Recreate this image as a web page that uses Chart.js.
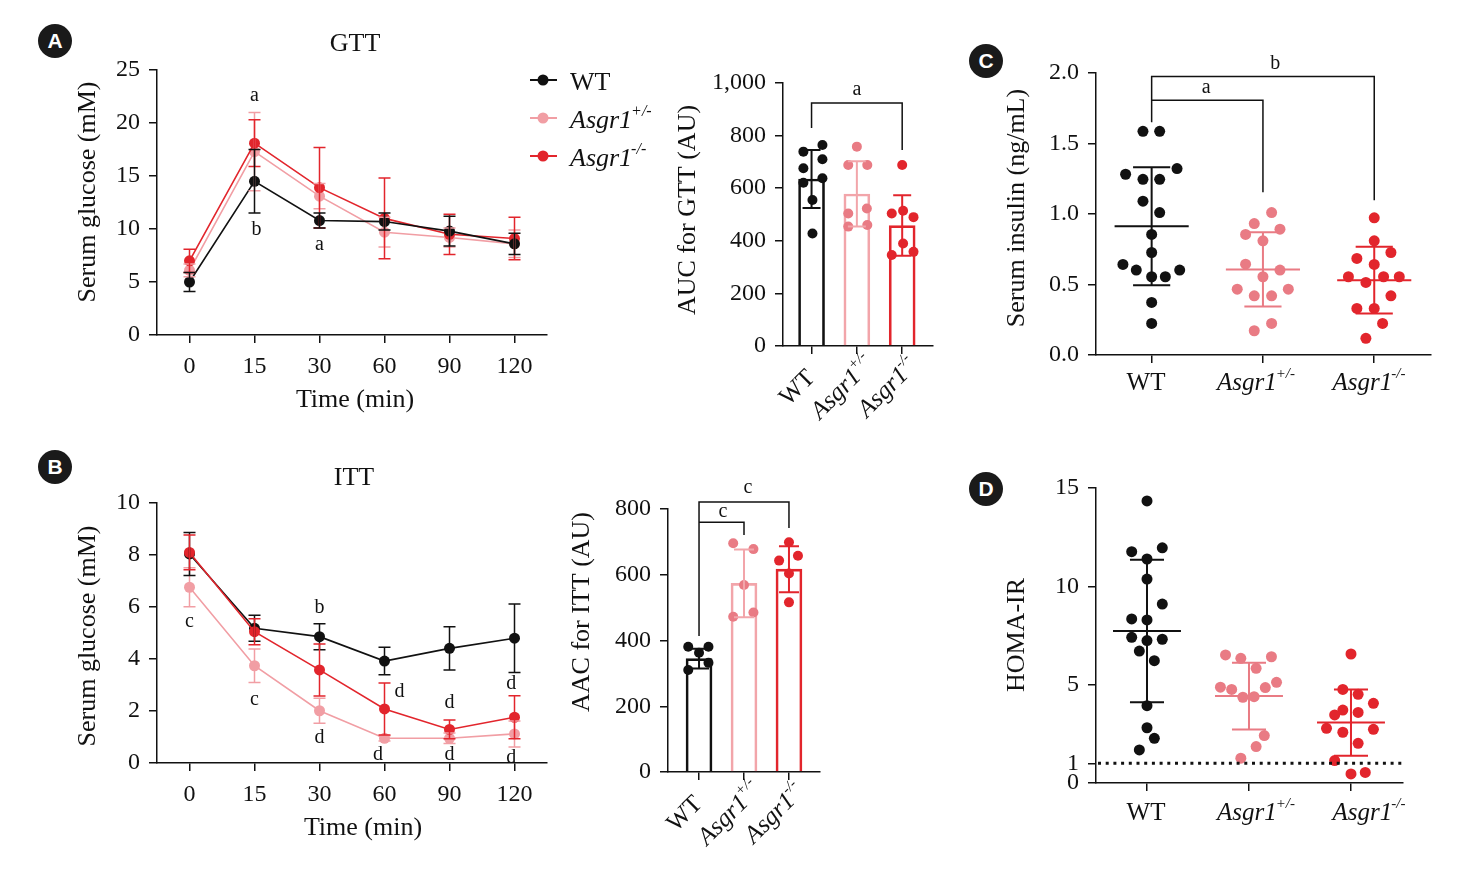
<!DOCTYPE html>
<html>
<head>
<meta charset="utf-8">
<title>GTT / ITT / insulin / HOMA-IR</title>
<script src="https://cdn.jsdelivr.net/npm/chart.js@4.4.1/dist/chart.umd.min.js"></script>
<style>
  body { margin: 0; background: #fff; }
  #page { position: relative; width: 1467px; height: 876px; overflow: hidden; background: #fff; }
  #page canvas { position: absolute; }
  .tag { position: absolute; width: 34px; height: 34px; border-radius: 50%; background: #1a1a1a; color: #fff;
         font: bold 21px "Liberation Sans", Arial, sans-serif; text-align: center; line-height: 34px; }
</style>
</head>
<body>
<div id="page">
  <div class="tag" style="left:38px;top:24px">A</div>
  <div class="tag" style="left:38px;top:450px">B</div>
  <div class="tag" style="left:969px;top:44px">C</div>
  <div class="tag" style="left:969px;top:472px">D</div>
</div>
<script>
var SERIF = '"Liberation Serif", "Times New Roman", serif';
var BLACK = '#111111';
var PINK_LINE = '#f19ea4';
var PINK_BAR = '#f2a5aa';
var PINK = '#e97b84';
var RED = '#e2252c';

// axes / groups
var times = ['0', '15', '30', '60', '90', '120'];
var groupNames = ['WT', 'Asgr1', 'Asgr1'];
var groupSups = ['', '+/-', '-/-'];

// GTT, serum glucose (mM), mean and SD
var gttWT = [5.0, 14.5, 10.8, 10.7, 9.8, 8.6];
var gttWTsd = [0.9, 3.0, 0.7, 0.8, 1.4, 1.0];
var gttHet = [6.1, 17.3, 13.1, 9.7, 9.2, 8.6];
var gttHetSd = [0.6, 3.7, 1.2, 1.4, 0.9, 1.3];
var gttKo = [7.0, 18.1, 13.9, 11.0, 9.5, 9.1];
var gttKoSd = [1.1, 2.2, 3.8, 3.8, 1.9, 2.0];

// ITT, serum glucose (mM)
var ittWT = [8.04, 5.18, 4.86, 3.92, 4.41, 4.80];
var ittWTsd = [0.83, 0.5, 0.5, 0.53, 0.83, 1.32];
var ittHet = [6.76, 3.74, 2.01, 0.95, 0.95, 1.12];
var ittHetSd = [0.75, 0.64, 0.48, 0.1, 0.2, 0.5];
var ittKo = [8.10, 5.05, 3.58, 2.08, 1.29, 1.76];
var ittKoSd = [0.67, 0.5, 1.0, 1.0, 0.36, 0.83];

// AUC for GTT (AU); the *X arrays are the horizontal jitter of each dot
var aucMean = [635, 578, 458];
var aucSd = [110, 124, 115];
var aucWT = [739, 764, 676, 710, 621, 638, 555, 428];
var aucWTx = [-0.18, 0.24, -0.18, 0.24, -0.18, 0.24, 0.02, 0.02];
var aucHet = [758, 688, 688, 504, 523, 454, 460];
var aucHetX = [0, -0.19, 0.23, -0.19, 0.22, -0.19, 0.23];
var aucKo = [688, 504, 514, 490, 390, 346, 358];
var aucKoX = [0, -0.23, 0.02, 0.25, 0.02, -0.23, 0.25];

// AAC for ITT (AU)
var aacMean = [345, 574, 617];
var aacSd = [30, 103, 70];
var aacWT = [381, 381, 363, 310, 332];
var aacWTx = [-0.24, 0.21, 0, -0.24, 0.21];
var aacHet = [696, 678, 569, 472, 485];
var aacHetX = [-0.24, 0.21, 0, -0.24, 0.21];
var aacKo = [699, 643, 658, 604, 516];
var aacKoX = [0, -0.22, 0.2, 0, 0];

// Serum insulin (ng/mL)
var insMean = [0.913, 0.607, 0.531];
var insSd = [0.418, 0.263, 0.236];
var insWT = [1.586, 1.586, 1.282, 1.322, 1.246, 1.246, 1.091, 1.010, 0.855, 0.727, 0.642, 0.602, 0.555, 0.555, 0.602, 0.373, 0.224];
var insWTx = [-0.078, 0.072, -0.234, 0.228, -0.078, 0.072, -0.078, 0.072, 0, 0, -0.258, -0.138, 0, 0.123, 0.252, 0, 0];
var insHet = [1.010, 0.932, 0.892, 0.855, 0.810, 0.644, 0.602, 0.555, 0.467, 0.467, 0.420, 0.420, 0.224, 0.172];
var insHetX = [0.078, -0.078, 0.153, -0.156, 0, -0.156, 0.153, 0, -0.231, 0.228, -0.078, 0.078, 0.078, -0.078];
var insKo = [0.973, 0.810, 0.685, 0.727, 0.642, 0.555, 0.515, 0.555, 0.555, 0.420, 0.330, 0.330, 0.224, 0.118];
var insKoX = [0, 0, -0.156, 0.150, 0, -0.232, -0.075, 0.084, 0.225, 0.150, -0.156, 0, 0.075, -0.075];

// HOMA-IR
var homaMean = [7.73, 4.42, 3.07];
var homaSd = [3.62, 1.70, 1.69];
var homaWT = [14.34, 11.76, 11.96, 11.39, 10.37, 9.10, 8.34, 8.29, 7.41, 7.24, 7.31, 6.71, 6.22, 3.93, 2.81, 2.27, 1.68];
var homaWTx = [0, -0.15, 0.15, 0, 0, 0.15, -0.15, 0, -0.15, 0, 0.15, -0.075, 0.072, 0, 0, 0.072, -0.075];
var homaHet = [6.51, 6.34, 6.42, 5.83, 4.87, 4.76, 4.85, 5.12, 4.36, 4.39, 2.41, 1.85, 1.26];
var homaHetX = [-0.23, -0.08, 0.22, 0.07, -0.28, -0.17, 0.16, 0.27, -0.06, 0.05, 0.15, 0.07, -0.08];
var homaKo = [6.56, 4.76, 4.51, 4.05, 3.71, 3.46, 3.59, 2.78, 2.58, 2.73, 2.02, 1.14, 0.46, 0.54];
var homaKoX = [0, -0.08, 0.07, 0.22, -0.08, -0.16, 0.07, -0.24, -0.08, 0.22, 0.07, -0.16, 0, 0.14];

Chart.defaults.font.family = SERIF;
Chart.defaults.color = BLACK;
Chart.defaults.animation = false;
Chart.defaults.plugins.legend.display = false;
Chart.defaults.plugins.tooltip.enabled = false;

function makeCanvas(left, top, w, h) {
  var c = document.createElement('canvas');
  c.width = w; c.height = h;
  c.style.left = left + 'px'; c.style.top = top + 'px';
  document.getElementById('page').appendChild(c);
  return c;
}

// points for group g: x = group index + jitter
function pts(values, jitter, g) {
  return values.map(function (v, i) { return { x: (g || 0) + (jitter ? jitter[i] : i), y: v }; });
}

function fixedTicks(list) {
  return function (scale) { scale.ticks = list.map(function (v) { return { value: v }; }); };
}

var lineGrid = { drawOnChartArea: false, drawTicks: true, tickLength: 8, color: BLACK, lineWidth: 1.5, offset: false };
var lineBorder = { color: BLACK, width: 1.5 };

function yAxis(min, max, step, width, fmt, tickList) {
  var ax = {
    min: min, max: max,
    ticks: { stepSize: step, padding: 9, font: { size: 24 }, color: BLACK },
    grid: lineGrid, border: lineBorder,
    afterFit: function (s) { s.width = width; }
  };
  if (fmt) ax.ticks.callback = fmt;
  if (tickList) ax.afterBuildTicks = fixedTicks(tickList);
  return ax;
}

function xAxis(min, max, count, height, labels) {
  return {
    type: 'linear', min: min, max: max, offset: false,
    afterBuildTicks: fixedTicks(Array.from({ length: count }, function (_, i) { return i; })),
    ticks: {
      display: !!labels, padding: 9, autoSkip: false, font: { size: 24 }, color: BLACK,
      callback: function (v) { return labels ? labels[v] : ''; }
    },
    grid: lineGrid, border: lineBorder,
    afterFit: function (s) { s.height = height; }
  };
}

function drawText(ctx, it) {
  var size = it.size || 26;
  var slant = it.italic ? 'italic ' : '';
  var mainFont = slant + size + 'px ' + SERIF;
  var supFont = slant + Math.round(size * 0.6) + 'px ' + SERIF;
  ctx.save();
  ctx.translate(it.x, it.y);
  if (it.rot) ctx.rotate(it.rot);
  ctx.font = mainFont;
  var w1 = ctx.measureText(it.t).width - (it.sup ? 1 : 0);
  var w2 = 0;
  if (it.sup) { ctx.font = supFont; w2 = ctx.measureText(it.sup).width; }
  var x0 = it.align === 'left' ? 0 : (it.align === 'right' ? -(w1 + w2) : -(w1 + w2) / 2);
  ctx.fillStyle = it.color || BLACK;
  ctx.textAlign = 'left';
  ctx.textBaseline = 'middle';
  ctx.font = mainFont;
  ctx.fillText(it.t, x0, 0);
  if (it.sup) { ctx.font = supFont; ctx.fillText(it.sup, x0 + w1, -size * 0.36); }
  ctx.restore();
}

// error bars, brackets, letters, labels, legend
function extras(o) {
  return {
    id: 'extras',
    afterDatasetsDraw: function (chart) {
      var ctx = chart.ctx, xs = chart.scales.x, ys = chart.scales.y;
      ctx.save();
      (o.errs || []).forEach(function (e) {
        ctx.strokeStyle = e.color;
        ctx.lineWidth = e.width || 1.5;
        e.mean.forEach(function (m, i) {
          var px = xs.getPixelForValue(e.at ? e.at[i] : i);
          var hi = ys.getPixelForValue(m + e.sd[i]);
          var lo = ys.getPixelForValue(m - e.sd[i]);
          var c = e.capX ? xs.getPixelForValue(e.capX) - xs.getPixelForValue(0) : e.cap;
          ctx.beginPath();
          ctx.moveTo(px, hi); ctx.lineTo(px, lo);
          ctx.moveTo(px - c, hi); ctx.lineTo(px + c, hi);
          ctx.moveTo(px - c, lo); ctx.lineTo(px + c, lo);
          if (e.meanX) {
            var half = xs.getPixelForValue(e.meanX) - xs.getPixelForValue(0);
            var py = ys.getPixelForValue(m);
            ctx.moveTo(px - half, py); ctx.lineTo(px + half, py);
          }
          ctx.stroke();
        });
      });
      ctx.restore();
    },
    afterDraw: function (chart) {
      var ctx = chart.ctx, xs = chart.scales.x, ys = chart.scales.y, area = chart.chartArea;
      ctx.save();
      ctx.strokeStyle = BLACK;
      ctx.lineWidth = 1.5;
      (o.brackets || []).forEach(function (b) {
        ctx.beginPath();
        b.forEach(function (p, k) {
          var X = xs.getPixelForValue(p[0]), Y = ys.getPixelForValue(p[1]);
          if (k) ctx.lineTo(X, Y); else ctx.moveTo(X, Y);
        });
        ctx.stroke();
      });
      if (o.refLine !== undefined) {
        var ry = ys.getPixelForValue(o.refLine);
        ctx.setLineDash([3, 4.7]);
        ctx.lineWidth = 3;
        ctx.beginPath(); ctx.moveTo(area.left + 2, ry); ctx.lineTo(area.right, ry); ctx.stroke();
        ctx.setLineDash([]);
      }
      (o.letters || []).forEach(function (l) {
        drawText(ctx, { t: l[0], x: xs.getPixelForValue(l[1]), y: ys.getPixelForValue(l[2]), size: 20 });
      });
      if (o.cats && o.cats.rotate) {
        groupNames.forEach(function (name, i) {
          var px = xs.getPixelForValue(i);
          drawText(ctx, { t: name, sup: groupSups[i], italic: i > 0, size: 25,
                          x: px - 14, y: area.bottom + 42, rot: -Math.PI / 4 });
        });
      }
      ctx.translate(-o.box[0], -o.box[1]);
      if (o.cats && !o.cats.rotate) {
        groupNames.forEach(function (name, i) {
          drawText(ctx, { t: name, sup: groupSups[i], italic: i > 0, size: 25,
                          x: o.cats.xs[i], y: o.cats.y });
        });
      }
      (o.texts || []).forEach(function (t) { drawText(ctx, t); });
      (o.legend || []).forEach(function (l) {
        ctx.strokeStyle = l.color; ctx.fillStyle = l.color; ctx.lineWidth = 2;
        ctx.beginPath(); ctx.moveTo(530, l.y); ctx.lineTo(557, l.y); ctx.stroke();
        ctx.beginPath(); ctx.arc(543, l.y, 5.5, 0, Math.PI * 2); ctx.fill();
        drawText(ctx, { t: l.t, sup: l.sup, italic: !!l.sup, x: 570, y: l.y + 3, size: 26, align: 'left' });
      });
      ctx.restore();
    }
  };
}

function lineSet(data, color) {
  return {
    data: pts(data), borderColor: color, backgroundColor: color, borderWidth: 1.6,
    pointRadius: 5.5, pointBorderWidth: 0, pointBackgroundColor: color, tension: 0
  };
}

function dotSet(values, jitter, g, color, r) {
  return {
    type: 'line', data: pts(values, jitter, g), showLine: false, order: 1,
    pointRadius: r || 5, pointBorderWidth: 0, pointBackgroundColor: color, borderColor: color
  };
}

// ---------- A: GTT curve ----------
new Chart(makeCanvas(60, 20, 620, 400), {
  type: 'line',
  data: { datasets: [lineSet(gttWT, BLACK), lineSet(gttKo, RED), lineSet(gttHet, PINK_LINE)] },
  options: {
    responsive: false, devicePixelRatio: 1,
    layout: { padding: { left: 0, top: 50, right: 133, bottom: 0 } },
    scales: { x: xAxis(-0.5, 5.5, 6, 85, times), y: yAxis(0, 25, 5, 97) }
  },
  plugins: [extras({
    box: [60, 20],
    errs: [
      { mean: gttHet, sd: gttHetSd, color: PINK_LINE, cap: 6 },
      { mean: gttKo, sd: gttKoSd, color: RED, cap: 6 },
      { mean: gttWT, sd: gttWTsd, color: BLACK, cap: 6 }
    ],
    letters: [['a', 1, 22.6], ['b', 1.03, 9.9], ['a', 2, 8.5]],
    texts: [
      { t: 'GTT', x: 355, y: 44 },
      { t: 'Serum glucose (mM)', x: 88, y: 192, rot: -Math.PI / 2 },
      { t: 'Time (min)', x: 355, y: 400 }
    ],
    legend: [
      { t: 'WT', color: BLACK, y: 80 },
      { t: 'Asgr1', sup: '+/-', color: PINK_LINE, y: 118 },
      { t: 'Asgr1', sup: '-/-', color: RED, y: 156 }
    ]
  })]
});

// ---------- A: AUC bars ----------
new Chart(makeCanvas(670, 20, 280, 420), {
  type: 'bar',
  data: {
    datasets: [
      dotSet(aucWT, aucWTx, 0, BLACK),
      dotSet(aucHet, aucHetX, 1, PINK),
      dotSet(aucKo, aucKoX, 2, RED),
      { data: pts(aucMean), order: 2, barThickness: 26, borderWidth: 2,
        borderColor: [BLACK, PINK_BAR, RED], backgroundColor: 'rgba(255,255,255,0)' }
    ]
  },
  options: {
    responsive: false, devicePixelRatio: 1,
    layout: { padding: { left: 0, top: 63, right: 17, bottom: 0 } },
    scales: { x: xAxis(-0.63, 2.68, 3, 94), y: yAxis(0, 1000, 200, 113) }
  },
  plugins: [extras({
    box: [670, 20],
    errs: [
      { mean: [aucMean[0]], sd: [aucSd[0]], color: BLACK, cap: 9, width: 2 },
      { mean: [aucMean[1]], sd: [aucSd[1]], at: [1], color: PINK_BAR, cap: 9, width: 2 },
      { mean: [aucMean[2]], sd: [aucSd[2]], at: [2], color: RED, cap: 9, width: 2 }
    ],
    brackets: [[[0, 829], [0, 924], [2, 924], [2, 745]]],
    letters: [['a', 1, 973]],
    cats: { rotate: true },
    texts: [{ t: 'AUC for GTT (AU)', x: 688, y: 210, rot: -Math.PI / 2 }]
  })]
});

// ---------- B: ITT curve ----------
new Chart(makeCanvas(60, 450, 500, 400), {
  type: 'line',
  data: { datasets: [lineSet(ittKo, RED), lineSet(ittWT, BLACK), lineSet(ittHet, PINK_LINE)] },
  options: {
    responsive: false, devicePixelRatio: 1,
    layout: { padding: { left: 0, top: 53, right: 13, bottom: 0 } },
    scales: { x: xAxis(-0.5, 5.5, 6, 87, times), y: yAxis(0, 10, 2, 97) }
  },
  plugins: [extras({
    box: [60, 450],
    errs: [
      { mean: ittHet, sd: ittHetSd, color: PINK_LINE, cap: 6 },
      { mean: ittWT, sd: ittWTsd, color: BLACK, cap: 6 },
      { mean: ittKo, sd: ittKoSd, color: RED, cap: 6 }
    ],
    letters: [
      ['c', 0, 5.42], ['c', 1, 2.42], ['b', 2, 5.96], ['d', 2, 0.96],
      ['d', 3.23, 2.73], ['d', 2.9, 0.31], ['d', 4, 2.31], ['d', 4, 0.31],
      ['d', 4.95, 3.04], ['d', 4.95, 0.19]
    ],
    texts: [
      { t: 'ITT', x: 354, y: 478 },
      { t: 'Serum glucose (mM)', x: 88, y: 636, rot: -Math.PI / 2 },
      { t: 'Time (min)', x: 363, y: 828 }
    ]
  })]
});

// ---------- B: AAC bars ----------
new Chart(makeCanvas(560, 450, 280, 410), {
  type: 'bar',
  data: {
    datasets: [
      dotSet(aacWT, aacWTx, 0, BLACK),
      dotSet(aacHet, aacHetX, 1, PINK),
      dotSet(aacKo, aacKoX, 2, RED),
      { data: pts(aacMean), order: 2, barThickness: 26, borderWidth: 2,
        borderColor: [BLACK, PINK_BAR, RED], backgroundColor: 'rgba(255,255,255,0)' }
    ]
  },
  options: {
    responsive: false, devicePixelRatio: 1,
    layout: { padding: { left: 0, top: 59, right: 20, bottom: 0 } },
    scales: { x: xAxis(-0.69, 2.69, 3, 88), y: yAxis(0, 800, 200, 108) }
  },
  plugins: [extras({
    box: [560, 450],
    errs: [
      { mean: [aacMean[0]], sd: [aacSd[0]], color: BLACK, cap: 10, width: 2 },
      { mean: [aacMean[1]], sd: [aacSd[1]], at: [1], color: PINK_BAR, cap: 10, width: 2 },
      { mean: [aacMean[2]], sd: [aacSd[2]], at: [2], color: RED, cap: 10, width: 2 }
    ],
    brackets: [
      [[0, 414], [0, 821], [2, 821], [2, 742]],
      [[0, 760], [1, 760], [1, 721]]
    ],
    letters: [['c', 1.09, 864], ['c', 0.53, 791]],
    cats: { rotate: true },
    texts: [{ t: 'AAC for ITT (AU)', x: 582, y: 612, rot: -Math.PI / 2 }]
  })]
});

// ---------- C: serum insulin ----------
new Chart(makeCanvas(990, 20, 460, 400), {
  type: 'scatter',
  data: {
    datasets: [
      dotSet(insWT, insWTx, 0, BLACK, 5.5),
      dotSet(insHet, insHetX, 1, PINK, 5.5),
      dotSet(insKo, insKoX, 2, RED, 5.5)
    ]
  },
  options: {
    responsive: false, devicePixelRatio: 1,
    layout: { padding: { left: 0, top: 53, right: 19, bottom: 0 } },
    scales: {
      x: xAxis(-0.5, 2.51, 3, 65),
      y: yAxis(0, 2, 0.5, 106, function (v) { return v.toFixed(1); })
    }
  },
  plugins: [extras({
    box: [990, 20],
    errs: [
      { mean: [insMean[0]], sd: [insSd[0]], color: BLACK, capX: 0.167, meanX: 0.333, width: 2 },
      { mean: [insMean[1]], sd: [insSd[1]], at: [1], color: PINK, capX: 0.167, meanX: 0.333, width: 2 },
      { mean: [insMean[2]], sd: [insSd[2]], at: [2], color: RED, capX: 0.167, meanX: 0.333, width: 2 }
    ],
    brackets: [
      [[0, 1.650], [0, 1.976], [2, 1.976], [2, 1.098]],
      [[0, 1.806], [1, 1.806], [1, 1.154]]
    ],
    letters: [['a', 0.49, 1.898], ['b', 1.11, 2.068]],
    cats: { rotate: false, xs: [1146, 1256, 1369], y: 383 },
    texts: [{ t: 'Serum insulin (ng/mL)', x: 1017, y: 208, rot: -Math.PI / 2 }]
  })]
});

// ---------- D: HOMA-IR ----------
new Chart(makeCanvas(990, 450, 460, 400), {
  type: 'scatter',
  data: {
    datasets: [
      dotSet(homaWT, homaWTx, 0, BLACK, 5.5),
      dotSet(homaHet, homaHetX, 1, PINK, 5.5),
      dotSet(homaKo, homaKoX, 2, RED, 5.5)
    ]
  },
  options: {
    responsive: false, devicePixelRatio: 1,
    layout: { padding: { left: 0, top: 38, right: 47, bottom: 0 } },
    scales: {
      x: xAxis(-0.5, 2.51, 3, 67),
      y: yAxis(0, 15, 5, 106, null, [0, 1, 5, 10, 15])
    }
  },
  plugins: [extras({
    box: [990, 450],
    errs: [
      { mean: [homaMean[0]], sd: [homaSd[0]], color: BLACK, capX: 0.167, meanX: 0.333, width: 2 },
      { mean: [homaMean[1]], sd: [homaSd[1]], at: [1], color: PINK, capX: 0.167, meanX: 0.333, width: 2 },
      { mean: [homaMean[2]], sd: [homaSd[2]], at: [2], color: RED, capX: 0.167, meanX: 0.333, width: 2 }
    ],
    refLine: 1,
    cats: { rotate: false, xs: [1146, 1256, 1369], y: 813 },
    texts: [{ t: 'HOMA-IR', x: 1017, y: 635, rot: -Math.PI / 2 }]
  })]
});
</script>
</body>
</html>
